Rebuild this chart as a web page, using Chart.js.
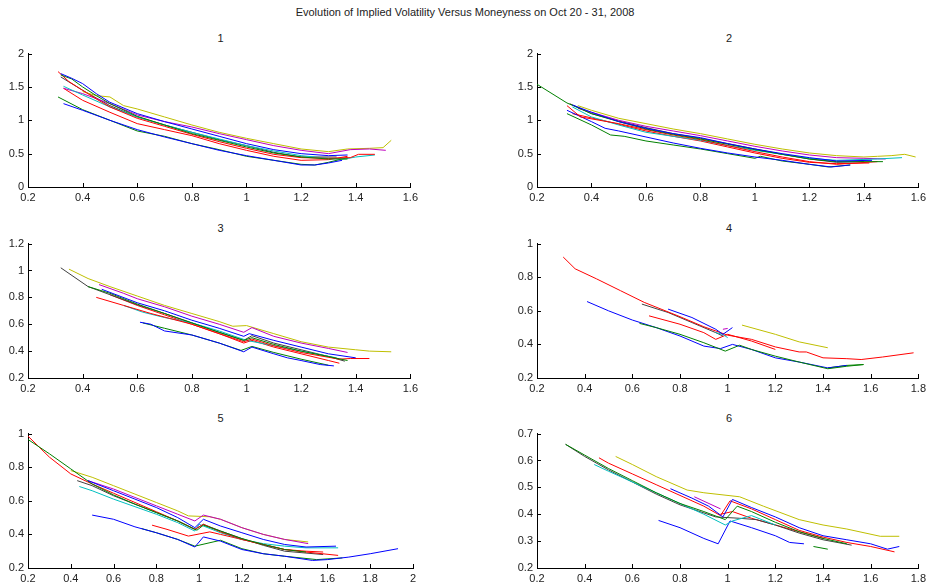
<!DOCTYPE html>
<html>
<head>
<meta charset="utf-8">
<script src="https://cdn.jsdelivr.net/npm/chart.js@4.4.0/dist/chart.umd.min.js"></script>
<style>
  body { margin: 0; background: #fff; width: 930px; height: 586px; overflow: hidden; position: relative;
         font-family: "Liberation Sans", Arial, sans-serif; }
  canvas { position: absolute; }
  .ttl { position: absolute; font-size: 11px; color: #222; text-align: center; line-height: 14px; }
</style>
</head>
<body>
<div class="ttl" id="mainTitle" style="left:0; width:930px; top:5px;"></div>

<script>
// Trading days, one line per day (MATLAB colour order b g r c m y k b g r)
const days = ["Oct 20", "Oct 21", "Oct 22", "Oct 23", "Oct 24", "Oct 27", "Oct 28", "Oct 29", "Oct 30", "Oct 31"];
const lineColors = ["#0000ff", "#008000", "#ff0000", "#00bfbf", "#bf00bf", "#bfbf00", "#404040", "#0000ff", "#008000", "#ff0000"];
const mainTitle = "Evolution of Implied Volatility Versus Moneyness on Oct 20 - 31, 2008";
const panelTitles = ["1", "2", "3", "4", "5", "6"];

// axis ranges / ticks per panel
const xMin = [0.2, 0.2, 0.2, 0.2, 0.2, 0.2];
const xMax = [1.6, 1.6, 1.6, 1.8, 2.0, 1.8];
const yMin = [0, 0, 0.2, 0.2, 0.2, 0.2];
const yMax = [2, 2, 1.2, 1.0, 1.0, 0.7];
const yStep = [0.5, 0.5, 0.2, 0.2, 0.2, 0.1];

// ---- panel 1: moneyness / implied vol per day
const p1Money = [
  [0.32,0.36,0.4,0.45,0.5,0.6,0.7,0.8,0.9,1.0,1.1,1.2,1.3,1.37],
  [0.32,0.36,0.4,0.45,0.5,0.6,0.7,0.8,0.9,1.0,1.1,1.2,1.3,1.37],
  [0.31,0.35,0.4,0.45,0.5,0.6,0.7,0.8,0.9,1.0,1.1,1.2,1.3,1.38,1.41,1.47],
  [0.33,0.4,0.5,0.6,0.7,0.8,0.9,1.0,1.1,1.2,1.3,1.36,1.4,1.47],
  [0.33,0.4,0.5,0.6,0.7,0.8,0.9,1.0,1.1,1.2,1.3,1.38,1.45,1.51],
  [0.4,0.45,0.5,0.55,0.6,0.7,0.8,0.9,1.0,1.1,1.2,1.3,1.37,1.45,1.5,1.53],
  [0.32,0.4,0.5,0.6,0.7,0.8,0.9,1.0,1.1,1.2,1.33],
  [0.33,0.4,0.5,0.6,0.7,0.8,0.9,1.0,1.1,1.2,1.25,1.3,1.35],
  [0.31,0.4,0.5,0.6,0.7,0.8,0.9,1.0,1.1,1.2,1.25,1.3,1.37],
  [0.33,0.4,0.5,0.6,0.7,0.8,0.9,1.0,1.1,1.2,1.3,1.37]
];
const p1Vol = [
  [1.70,1.63,1.55,1.40,1.27,1.10,0.98,0.87,0.76,0.65,0.56,0.50,0.47,0.48],
  [1.68,1.62,1.50,1.37,1.25,1.06,0.93,0.80,0.70,0.60,0.51,0.45,0.42,0.42],
  [1.73,1.58,1.45,1.32,1.20,1.03,0.91,0.79,0.68,0.58,0.49,0.44,0.43,0.44,0.49,0.49],
  [1.51,1.38,1.20,1.05,0.93,0.82,0.72,0.62,0.54,0.47,0.43,0.42,0.45,0.48],
  [1.48,1.40,1.25,1.08,0.98,0.90,0.80,0.71,0.62,0.55,0.50,0.56,0.57,0.55],
  [1.43,1.37,1.35,1.22,1.17,1.05,0.93,0.82,0.73,0.65,0.57,0.53,0.57,0.58,0.59,0.70],
  [1.65,1.45,1.22,1.05,0.93,0.82,0.71,0.62,0.52,0.45,0.45],
  [1.25,1.15,1.00,0.86,0.75,0.65,0.55,0.47,0.40,0.33,0.33,0.36,0.40],
  [1.35,1.16,1.00,0.84,0.76,0.65,0.56,0.46,0.40,0.34,0.33,0.37,0.44],
  [1.48,1.30,1.12,0.95,0.86,0.77,0.65,0.55,0.46,0.40,0.41,0.46]
];

// ---- panel 2
const p2Money = [
  [0.33,0.4,0.5,0.6,0.7,0.8,0.9,1.0,1.1,1.2,1.3,1.43],
  [0.2,0.31,0.4,0.5,0.6,0.7,0.8,0.9,1.0,1.1,1.2,1.3,1.47],
  [0.31,0.36,0.5,0.6,0.7,0.8,0.9,1.0,1.1,1.2,1.3,1.45],
  [0.33,0.4,0.5,0.6,0.7,0.8,0.9,1.0,1.1,1.2,1.3,1.45,1.54],
  [0.35,0.4,0.5,0.6,0.7,0.8,0.9,1.0,1.1,1.2,1.3,1.4,1.48],
  [0.35,0.4,0.5,0.6,0.7,0.8,0.9,1.0,1.1,1.2,1.3,1.4,1.45,1.5,1.55,1.59],
  [0.32,0.4,0.5,0.6,0.7,0.8,0.9,1.0,1.1,1.2,1.3,1.4],
  [0.31,0.4,0.45,0.5,0.6,0.7,0.8,0.9,1.0,1.1,1.2,1.28,1.35],
  [0.31,0.4,0.47,0.52,0.6,0.7,0.8,0.9,1.0,1.02,1.1,1.2,1.27,1.35],
  [0.33,0.45,0.6,0.7,0.8,0.9,1.0,1.1,1.2,1.3,1.42]
];
const p2Vol = [
  [1.23,1.12,0.98,0.88,0.80,0.74,0.65,0.57,0.50,0.44,0.39,0.40],
  [1.54,1.26,1.10,0.98,0.87,0.79,0.72,0.64,0.56,0.49,0.42,0.38,0.38],
  [1.22,1.05,0.95,0.86,0.78,0.71,0.62,0.53,0.45,0.38,0.34,0.38],
  [1.20,1.05,0.93,0.82,0.76,0.70,0.62,0.55,0.49,0.43,0.40,0.42,0.44],
  [1.18,1.12,1.00,0.91,0.84,0.77,0.69,0.61,0.54,0.48,0.44,0.43,0.42],
  [1.22,1.15,1.03,0.95,0.87,0.80,0.72,0.64,0.57,0.51,0.47,0.45,0.46,0.47,0.49,0.45],
  [1.25,1.10,0.99,0.89,0.80,0.73,0.65,0.57,0.49,0.42,0.37,0.38],
  [1.15,0.98,0.88,0.84,0.75,0.66,0.58,0.51,0.45,0.40,0.34,0.30,0.33],
  [1.10,0.93,0.78,0.76,0.69,0.63,0.57,0.50,0.43,0.46,0.39,0.34,0.30,0.33],
  [1.10,0.99,0.84,0.76,0.69,0.60,0.51,0.43,0.37,0.35,0.36]
];

// ---- panel 3
const p3Money = [
  [0.47,0.6,0.7,0.8,0.9,0.99,1.01,1.1,1.2,1.3,1.4],
  [0.42,0.5,0.6,0.7,0.8,0.9,0.99,1.02,1.1,1.2,1.3,1.37],
  [0.45,0.55,0.65,0.8,0.9,0.99,1.02,1.1,1.2,1.34,1.38,1.45],
  [0.55,0.62,0.7,0.8,0.9,1.0,1.1,1.2,1.33],
  [0.46,0.55,0.6,0.7,0.8,0.9,0.99,1.02,1.1,1.2,1.3,1.37],
  [0.35,0.42,0.5,0.6,0.7,0.8,0.9,0.95,1.0,1.1,1.2,1.3,1.4,1.45,1.53],
  [0.32,0.42,0.5,0.6,0.7,0.8,0.9,0.99,1.02,1.1,1.2,1.3,1.36],
  [0.61,0.65,0.7,0.8,0.9,0.99,1.02,1.1,1.15,1.2,1.27,1.32],
  [0.62,0.7,0.8,0.9,0.98,1.02,1.1,1.2,1.3],
  [0.5,0.6,0.7,0.8,0.9,0.99,1.02,1.1,1.2,1.3,1.34]
];
const p3Vol = [
  [0.86,0.76,0.70,0.63,0.57,0.51,0.53,0.48,0.43,0.38,0.35],
  [0.88,0.83,0.75,0.68,0.61,0.54,0.48,0.50,0.45,0.40,0.36,0.33],
  [0.80,0.74,0.68,0.60,0.53,0.47,0.49,0.44,0.39,0.34,0.345,0.345],
  [0.74,0.69,0.65,0.61,0.55,0.48,0.44,0.40,0.35],
  [0.895,0.83,0.79,0.73,0.66,0.60,0.54,0.575,0.51,0.46,0.42,0.39],
  [1.01,0.94,0.88,0.81,0.74,0.68,0.62,0.585,0.59,0.53,0.47,0.43,0.41,0.40,0.395],
  [1.02,0.88,0.82,0.745,0.68,0.61,0.54,0.48,0.515,0.46,0.41,0.36,0.325],
  [0.615,0.60,0.55,0.52,0.46,0.395,0.43,0.38,0.35,0.33,0.30,0.29],
  [0.61,0.57,0.52,0.46,0.405,0.435,0.39,0.34,0.295],
  [0.82,0.74,0.67,0.60,0.53,0.46,0.48,0.43,0.38,0.33,0.31]
];

// ---- panel 4
const p4Money = [
  [0.75,0.85,0.95,0.98,1.02],
  [0.63,0.7,0.8,0.9,0.99,1.05,1.1,1.2,1.3,1.42,1.5,1.57],
  [0.31,0.36,0.45,0.55,0.65,0.8,0.9,1.0,1.1,1.2,1.3,1.33,1.4,1.5,1.56,1.65,1.78],
  [0.95,0.98,1.0],
  [0.98,1.0],
  [1.06,1.2,1.3,1.42],
  [0.64,0.75,0.85,0.95,0.98],
  [0.41,0.5,0.6,0.7,0.8,0.9,0.97,1.02,1.1,1.2,1.3,1.42,1.5],
  [1.42,1.5,1.57],
  [0.67,0.8,0.9,0.95,1.0,1.1,1.2]
];
const p4Vol = [
  [0.61,0.56,0.49,0.46,0.50],
  [0.525,0.50,0.46,0.41,0.36,0.395,0.37,0.33,0.295,0.255,0.27,0.28],
  [0.92,0.85,0.79,0.72,0.65,0.565,0.505,0.455,0.43,0.385,0.355,0.355,0.32,0.315,0.31,0.325,0.35],
  [0.47,0.46,0.44],
  [0.49,0.495],
  [0.515,0.46,0.415,0.38],
  [0.64,0.59,0.53,0.47,0.45],
  [0.655,0.60,0.545,0.50,0.45,0.39,0.375,0.40,0.37,0.32,0.295,0.26,0.275],
  [0.26,0.275,0.28],
  [0.57,0.52,0.47,0.43,0.46,0.42,0.37]
];

// ---- panel 5
const p5Money = [
  [0.48,0.6,0.7,0.8,0.9,0.98,1.02,1.1,1.2,1.3,1.4,1.5,1.64],
  [0.2,0.3,0.4,0.5,0.6,0.7,0.8,0.9,0.99,1.02,1.1,1.2,1.3,1.4,1.5],
  [0.2,0.3,0.4,0.5,0.6,0.7,0.8,0.9,0.98,1.02,1.1,1.2,1.3,1.4,1.5,1.65],
  [0.44,0.5,0.6,0.7,0.8,0.9,0.98,1.0,1.1,1.2,1.3,1.4,1.5,1.65],
  [0.48,0.6,0.7,0.8,0.9,0.98,1.02,1.1,1.2,1.3,1.4,1.51],
  [0.4,0.5,0.6,0.7,0.8,0.9,0.95,1.05,1.1,1.2,1.3,1.4,1.51],
  [0.43,0.5,0.6,0.7,0.8,0.9,0.98,1.02,1.1,1.2,1.3,1.4,1.58],
  [0.5,0.6,0.7,0.8,0.9,0.98,1.02,1.1,1.2,1.3,1.4,1.53,1.6,1.7,1.8,1.93],
  [0.73,0.8,0.9,0.98,1.1,1.2,1.3,1.4,1.55,1.67],
  [0.78,0.85,0.95,1.05,1.1,1.2,1.3,1.4,1.5,1.58]
];
const p5Vol = [
  [0.72,0.66,0.61,0.56,0.50,0.44,0.49,0.45,0.41,0.37,0.34,0.325,0.33],
  [0.965,0.88,0.79,0.70,0.635,0.58,0.53,0.48,0.425,0.455,0.42,0.375,0.34,0.31,0.295],
  [0.985,0.86,0.76,0.70,0.645,0.59,0.535,0.48,0.43,0.46,0.415,0.37,0.34,0.31,0.295,0.275],
  [0.685,0.66,0.61,0.565,0.52,0.47,0.42,0.46,0.41,0.37,0.345,0.33,0.32,0.32],
  [0.72,0.67,0.62,0.57,0.52,0.48,0.515,0.49,0.44,0.40,0.37,0.345],
  [0.78,0.74,0.69,0.64,0.59,0.54,0.51,0.505,0.49,0.44,0.40,0.37,0.355],
  [0.72,0.69,0.63,0.58,0.53,0.48,0.43,0.46,0.42,0.375,0.335,0.30,0.28],
  [0.515,0.49,0.445,0.41,0.37,0.325,0.385,0.36,0.31,0.285,0.27,0.245,0.25,0.265,0.285,0.315],
  [0.435,0.41,0.37,0.33,0.365,0.315,0.285,0.27,0.25,0.26],
  [0.455,0.43,0.39,0.415,0.40,0.37,0.34,0.31,0.30,0.295]
];

// ---- panel 6
const p6Money = [
  [0.76,0.85,0.92,0.98,1.02,1.1,1.2,1.3,1.4,1.5,1.6,1.67,1.72],
  [0.32,0.4,0.5,0.6,0.7,0.8,0.9,0.99,1.04,1.1,1.2,1.3,1.4,1.5],
  [0.46,0.5,0.6,0.7,0.8,0.9,0.97,1.01,1.1,1.2,1.3,1.4,1.5,1.6,1.7],
  [0.44,0.5,0.6,0.7,0.8,0.9,0.99,1.02,1.1,1.2],
  [0.86,0.97],
  [0.53,0.6,0.7,0.83,0.9,1.05,1.15,1.3,1.4,1.5,1.64,1.72],
  [0.32,0.4,0.5,0.6,0.7,0.8,0.95,1.05,1.12,1.2,1.3,1.4,1.52],
  [0.71,0.8,0.9,0.96,1.01,1.1,1.2,1.26,1.32],
  [1.36,1.42],
  [0.97,1.02,1.1,1.2,1.3,1.4]
];
const p6Vol = [
  [0.495,0.46,0.43,0.39,0.455,0.425,0.39,0.35,0.32,0.305,0.29,0.27,0.28],
  [0.66,0.62,0.57,0.525,0.48,0.44,0.41,0.38,0.43,0.41,0.37,0.335,0.31,0.29],
  [0.61,0.59,0.55,0.51,0.47,0.43,0.395,0.45,0.42,0.38,0.34,0.315,0.295,0.28,0.26],
  [0.585,0.56,0.52,0.48,0.44,0.40,0.36,0.375,0.395,0.36],
  [0.465,0.42],
  [0.615,0.585,0.54,0.49,0.48,0.465,0.43,0.38,0.36,0.345,0.318,0.318],
  [0.66,0.615,0.565,0.52,0.475,0.435,0.39,0.385,0.38,0.36,0.33,0.305,0.285],
  [0.377,0.35,0.31,0.29,0.375,0.35,0.32,0.295,0.29],
  [0.28,0.27],
  [0.40,0.41,0.385,0.36,0.335,0.31]
];

const allMoney = [p1Money, p2Money, p3Money, p4Money, p5Money, p6Money];
const allVol = [p1Vol, p2Vol, p3Vol, p4Vol, p5Vol, p6Vol];

// plot-area boxes on the page: left, top, width, height
const plotBoxes = [
  [28, 51, 385, 136], [537, 51, 384, 136],
  [28, 241, 385, 137], [537, 241, 384, 137],
  [28, 431, 385, 137], [537, 431, 384, 137]
];
const Y_AXIS_W = 28, X_AXIS_H = 22, PAD_TOP = 8, PAD_RIGHT = 9;

document.getElementById("mainTitle").textContent = mainTitle;

// MATLAB style ticks pointing into the plot
const inwardTicks = {
  id: "inwardTicks",
  afterDraw(chart) {
    const { ctx, chartArea, scales: { x, y } } = chart;
    ctx.save();
    ctx.strokeStyle = "#000";
    ctx.lineWidth = 1;
    ctx.beginPath();
    x.ticks.forEach(t => {
      const px = Math.round(x.getPixelForValue(t.value)) + 0.5;
      ctx.moveTo(px, chartArea.bottom);
      ctx.lineTo(px, chartArea.bottom - 4);
    });
    y.ticks.forEach(t => {
      const py = Math.round(y.getPixelForValue(t.value)) + 0.5;
      ctx.moveTo(chartArea.left, py);
      ctx.lineTo(chartArea.left + 4, py);
    });
    ctx.stroke();
    ctx.restore();
  }
};

const tickFont = { family: "'Liberation Sans', Arial, sans-serif", size: 11 };
// MATLAB drops trailing zeros: 1, 2, 0, 0.5
const fmt = v => String(+Number(v).toFixed(2));

plotBoxes.forEach((box, i) => {
  const [bx, by, bw, bh] = box;

  const title = document.createElement("div");
  title.className = "ttl";
  title.style.left = bx + "px";
  title.style.width = bw + "px";
  title.style.top = (by - 20) + "px";
  title.textContent = panelTitles[i];
  document.body.appendChild(title);

  const canvas = document.createElement("canvas");
  canvas.width = bw + Y_AXIS_W + PAD_RIGHT;
  canvas.height = bh + PAD_TOP + X_AXIS_H;
  canvas.style.left = (bx - Y_AXIS_W) + "px";
  canvas.style.top = (by - PAD_TOP) + "px";
  document.body.appendChild(canvas);

  const datasets = allMoney[i].map((xs, k) => ({
    label: days[k],
    data: xs.map((m, j) => ({ x: m, y: allVol[i][k][j] })),
    borderColor: lineColors[k],
    borderWidth: 1,
    showLine: true,
    pointRadius: 0,
    tension: 0
  }));

  new Chart(canvas.getContext("2d"), {
    type: "scatter",
    data: { datasets },
    options: {
      responsive: false,
      animation: false,
      devicePixelRatio: 1,
      layout: { padding: { top: PAD_TOP, right: PAD_RIGHT, left: 0, bottom: 0 } },
      plugins: { legend: { display: false }, tooltip: { enabled: false } },
      scales: {
        x: {
          type: "linear",
          min: xMin[i],
          max: xMax[i],
          afterFit: s => { s.height = X_AXIS_H; },
          grid: { display: false, drawTicks: false },
          border: { display: true, color: "#000", width: 1 },
          ticks: { stepSize: 0.2, font: tickFont, color: "#222", padding: 4, maxRotation: 0, callback: fmt }
        },
        y: {
          type: "linear",
          min: yMin[i],
          max: yMax[i],
          afterFit: s => { s.width = Y_AXIS_W; },
          grid: { display: false, drawTicks: false },
          border: { display: true, color: "#000", width: 1 },
          ticks: { stepSize: yStep[i], font: tickFont, color: "#222", padding: 4, callback: fmt }
        }
      }
    },
    plugins: [inwardTicks]
  });
});
</script>
</body>
</html>
